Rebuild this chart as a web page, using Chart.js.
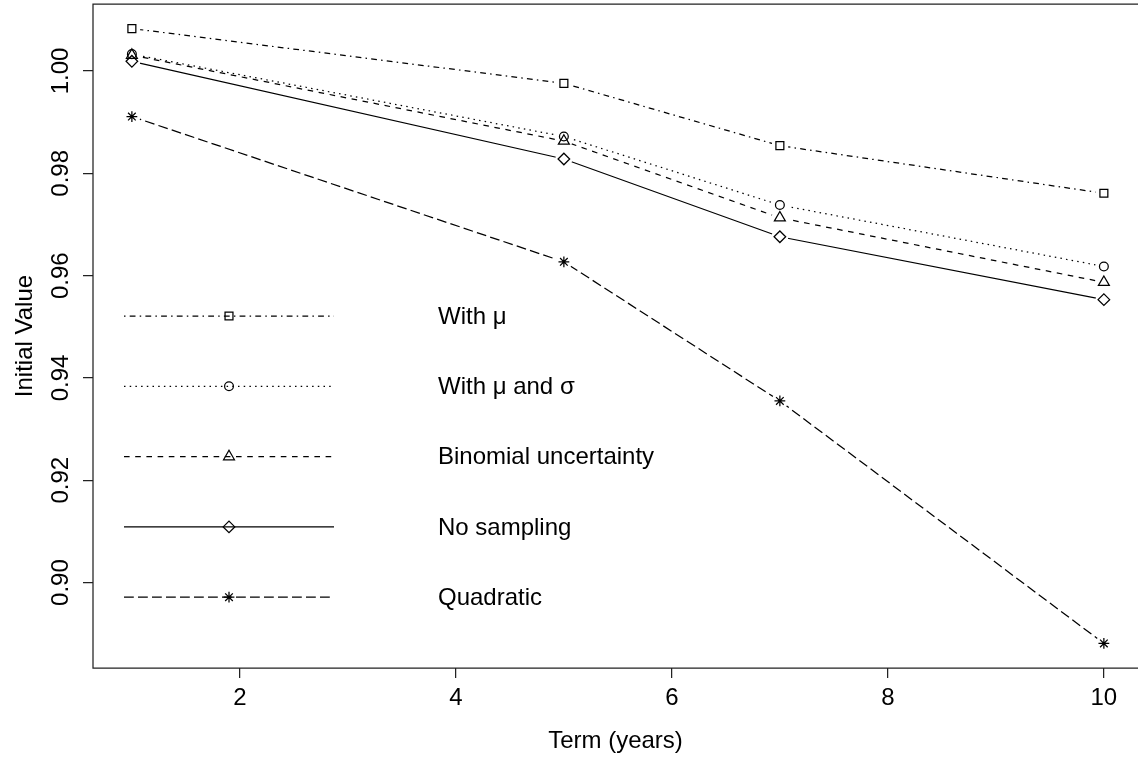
<!DOCTYPE html>
<html>
<head>
<meta charset="utf-8">
<script src="https://cdn.jsdelivr.net/npm/chart.js@4.4.1/dist/chart.umd.min.js"></script>
<style>
html,body{margin:0;padding:0;background:#fff;overflow:hidden;width:1138px;height:757px}
#wrap{position:relative;width:1138px;height:757px;overflow:hidden}
canvas{display:block}
</style>
</head>
<body>
<div id="wrap"><canvas id="c" width="1138" height="757"></canvas></div>
<script>
// ---- data ----
const terms = [1, 5, 7, 10];
const withMu = [1.0083, 0.9976, 0.9854, 0.9761];
const withMuSigma = [1.0033, 0.9872, 0.9738, 0.9618];
const binomial = [1.0031, 0.9863, 0.9713, 0.9587];
const noSampling = [1.0019, 0.9828, 0.9676, 0.9553];
const quadratic = [0.9911, 0.9627, 0.9355, 0.8881];

const seriesNames = ['With μ', 'With μ and σ', 'Binomial uncertainty', 'No sampling', 'Quadratic'];
const seriesValues = [withMu, withMuSigma, binomial, noSampling, quadratic];

const xTicks = [2, 4, 6, 8, 10];
const xTickLabels = ['2', '4', '6', '8', '10'];
const yTicks = [0.90, 0.92, 0.94, 0.96, 0.98, 1.00];
const yTickLabels = ['0.90', '0.92', '0.94', '0.96', '0.98', '1.00'];

// ---- styles ----
const pointStyles = ['rect', 'circle', 'triangle', 'rectRot', 'star'];
const pointRadii = [5.6, 4.4, 6.3, 5.8, 5.4];
const dashes = [[1.5, 4.2, 5.8, 4.2], [1.5, 4.2], [5.6, 5.6], [], [9.8, 4.2]];
const LW = 1.25;
const INK = '#000';
const GAP = 8.5;
const FONT = '"Liberation Sans", Arial, Helvetica, sans-serif';

Chart.defaults.font.family = FONT;
Chart.defaults.font.size = 24;
Chart.defaults.color = INK;

const datasets = [];
seriesValues.forEach((vals, i) => {
  const pts = terms.map((t, j) => ({ x: t, y: vals[j] }));
  datasets.push({
    label: seriesNames[i] + ' line',
    data: pts,
    isLine: true,
    showLine: true,
    borderColor: INK,
    borderWidth: LW,
    borderDash: dashes[i],
    pointRadius: 0,
    pointHoverRadius: 0,
    tension: 0,
    fill: false
  });
  datasets.push({
    label: seriesNames[i],
    data: pts,
    showLine: false,
    pointStyle: pointStyles[i],
    pointRadius: pointRadii[i],
    pointHoverRadius: pointRadii[i],
    pointBorderColor: INK,
    pointBackgroundColor: 'rgba(0,0,0,0)',
    pointBorderWidth: LW
  });
});

// lines stop short of the symbols (like type = "b")
const gapPlugin = {
  id: 'gap',
  beforeDatasetDraw(chart, args) {
    const ds = chart.data.datasets[args.index];
    if (!ds.isLine) return;
    const ctx = chart.ctx;
    ctx.save();
    ctx.beginPath();
    ctx.rect(0, 0, chart.width, chart.height);
    args.meta.data.forEach(p => {
      ctx.moveTo(p.x + GAP, p.y);
      ctx.arc(p.x, p.y, GAP, 0, Math.PI * 2);
    });
    ctx.clip('evenodd');
  },
  afterDatasetDraw(chart, args) {
    const ds = chart.data.datasets[args.index];
    if (ds.isLine) chart.ctx.restore();
  }
};

// plot frame (right side falls just outside the page, as in the original)
const boxPlugin = {
  id: 'box',
  afterDraw(chart) {
    const a = chart.chartArea;
    const ctx = chart.ctx;
    ctx.save();
    ctx.strokeStyle = '#222';
    ctx.lineWidth = LW;
    ctx.setLineDash([]);
    ctx.beginPath();
    ctx.moveTo(chart.width + 5, a.top);
    ctx.lineTo(a.left, a.top);
    ctx.lineTo(a.left, a.bottom);
    ctx.lineTo(chart.width + 5, a.bottom);
    ctx.stroke();
    ctx.restore();
  }
};

// legend (R-style, inside the plot)
const legendLeft = 124, legendRight = 334, legendMarkX = 229, legendTextX = 438;
const legendTop = 316, legendStep = 70.3;
function drawMark(ctx, style, r, x, y) {
  if (Chart.helpers && Chart.helpers.drawPoint) {
    Chart.helpers.drawPoint(ctx, { pointStyle: style, radius: r, rotation: 0, borderWidth: LW }, x, y);
  } else {
    ctx.beginPath(); ctx.arc(x, y, r, 0, Math.PI * 2); ctx.stroke();
  }
}
const legendPlugin = {
  id: 'rlegend',
  afterDraw(chart) {
    const ctx = chart.ctx;
    seriesNames.forEach((name, i) => {
      const y = legendTop + i * legendStep;
      ctx.save();
      ctx.strokeStyle = INK;
      ctx.lineWidth = LW;
      ctx.lineCap = 'butt';
      ctx.setLineDash(dashes[i]);
      ctx.beginPath();
      ctx.moveTo(legendLeft, y);
      ctx.lineTo(legendRight, y);
      ctx.stroke();
      ctx.setLineDash([]);
      ctx.fillStyle = 'rgba(0,0,0,0)';
      drawMark(ctx, pointStyles[i], pointRadii[i], legendMarkX, y);
      ctx.fillStyle = INK;
      ctx.font = '24px ' + FONT;
      ctx.textAlign = 'left';
      ctx.textBaseline = 'middle';
      ctx.fillText(name, legendTextX, y + 1);
      ctx.restore();
    });
  }
};

new Chart(document.getElementById('c'), {
  type: 'scatter',
  data: { datasets },
  options: {
    responsive: false,
    animation: false,
    devicePixelRatio: 1,
    layout: { autoPadding: false, padding: { top: 4, left: 0, right: 0, bottom: 0 } },
    plugins: { legend: { display: false }, tooltip: { enabled: false } },
    events: [],
    scales: {
      x: {
        type: 'linear',
        min: 0.64,
        max: 10.316,
        afterBuildTicks: s => { s.ticks = xTicks.map(v => ({ value: v })); },
        afterFit: s => { s.height = 89; s.paddingLeft = 0; s.paddingRight = 0; },
        grid: { drawOnChartArea: false, drawTicks: true, tickLength: 10, color: '#222', lineWidth: LW },
        border: { display: false },
        ticks: {
          autoSkip: false, maxRotation: 0, minRotation: 0, padding: 6,
          color: INK, font: { size: 24 },
          callback: (v, i) => xTickLabels[i]
        },
        title: { display: true, text: 'Term (years)', color: INK, font: { size: 24 }, padding: { top: 0, bottom: 1.6 } }
      },
      y: {
        type: 'linear',
        min: 0.8833,
        max: 1.0131,
        afterBuildTicks: s => { s.ticks = yTicks.map(v => ({ value: v })); },
        afterFit: s => { s.width = 93; s.paddingTop = 0; s.paddingBottom = 0; },
        grid: { drawOnChartArea: false, drawTicks: true, tickLength: 10, color: '#222', lineWidth: LW },
        border: { display: false },
        ticks: {
          autoSkip: false, minRotation: 90, maxRotation: 90, crossAlign: 'center', padding: -2,
          color: INK, font: { size: 24 },
          callback: (v, i) => yTickLabels[i]
        },
        title: { display: true, text: 'Initial Value', color: INK, font: { size: 24 }, padding: { top: 10.6, bottom: 0 } }
      }
    }
  },
  plugins: [gapPlugin, boxPlugin, legendPlugin]
});
</script>
</body>
</html>
